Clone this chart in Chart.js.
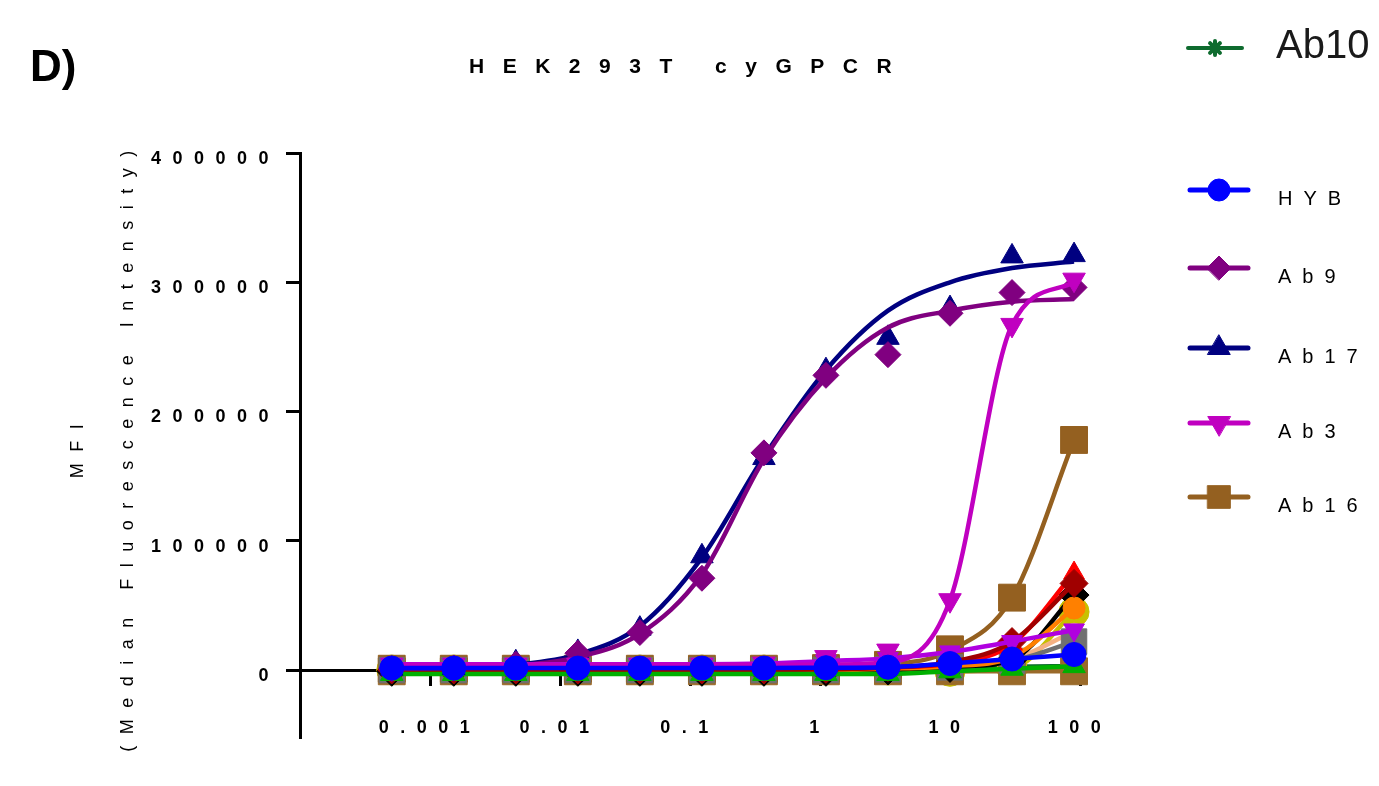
<!DOCTYPE html>
<html>
<head>
<meta charset="utf-8">
<script src="https://cdn.jsdelivr.net/npm/chart.js"></script>
<style>
  html, body { margin: 0; padding: 0; background: #fff; }
  #wrap { position: relative; width: 1379px; height: 786px; font-family: 'Liberation Sans', Arial, sans-serif; color: #000; }
  #panel { position: absolute; left: 30px; top: 44px; font-size: 44px; font-weight: bold; line-height: 1; }
  #title { position: absolute; left: 469px; top: 55px; font-size: 21px; font-weight: bold; line-height: 1; letter-spacing: 18.5px; white-space: pre; }
</style>
</head>
<body>
<div id="wrap">
  <canvas id="chart" width="1379" height="786"></canvas>
  <div id="panel">D)</div>
  <div id="title"></div>
</div>
<script>
// concentrations (3-fold dilution from 90), ascending
const concentrations = [0.000508, 0.001524, 0.004572, 0.01372, 0.04115, 0.1235, 0.3704, 1.111, 3.333, 10, 30, 90];

// measured MFI per concentration
const hyb    = [1500, 1500, 1500, 1500, 1500, 1500, 1500, 1800, 2200, 5000, 8500, 12000];
const ab9    = [1000, 1500, 4500, 13000, 29000, 71000, 168000, 228000, 244000, 276000, 292000, 296000];
const ab17   = [1000, 1500, 6000, 14000, 32000, 88000, 164000, 232000, 257000, 280000, 320000, 321000];
const ab3    = [4000, 4000, 4000, 4000, 4000, 4000, 5000, 10000, 15000, 54000, 267000, 302000];
const ab16   = [1000, 1000, 1000, 1000, 1000, 1000, 1000, 1500, 4000, 16000, 56000, 178000];
const ab10   = [500, 500, 500, 500, 500, 500, 500, 500, 800, 1500, 2500, 3000];

// fitted curves at the same concentrations
const ab9Fit  = [1000, 1500, 3500, 10000, 28000, 74000, 163000, 226000, 265000, 278000, 285000, 287000];
const ab17Fit = [1000, 1500, 4000, 12000, 34000, 87000, 165000, 232000, 278000, 300000, 311000, 316000];
const ab3Fit  = [4000, 4000, 4000, 4000, 4000, 4000, 4000, 4200, 6000, 54000, 267000, 300000];
const ab16Fit = [1000, 1000, 1000, 1000, 1000, 1000, 1000, 1500, 4000, 15000, 56000, 178000];

// unlabelled series
const violet  = [4500, 4500, 4500, 4500, 4500, 4500, 5000, 7000, 9000, 14000, 22000, 31000];
const green   = [-3000, -3000, -3000, -3000, -3000, -3000, -3000, -3000, -3000, -1000, 1000, 3000];
const darkRed = [0, 0, 0, 0, 0, 0, 0, 500, 2000, 6000, 22000, 67000];
const red     = [0, 0, 0, 0, 0, 0, 0, 500, 2000, 5000, 20000, 75000];
const orange  = [0, 0, 0, 0, 0, 0, 0, 0, 1000, 3000, 10000, 48000];
const black   = [-1000, -1000, -1000, -1000, -1000, -1000, -1000, -1000, 0, 2000, 8000, 58000];
const gray    = [0, 0, 0, 0, 0, 0, 0, 0, 500, 2000, 7000, 22000];
const peach   = [0, 0, 0, 0, 0, 0, 0, 0, 1000, 3000, 8000, 30000];
const brown   = [-1000, -1000, -1000, -1000, -1000, -1000, -1000, -1000, -1000, -1000, -1000, -1000];
const yellow  = [0, 0, 0, 0, 0, 0, 0, 0, 0, -1000, 1500, 45000];

const xTicks = [0.001, 0.01, 0.1, 1, 10, 100];
const yTicks = [0, 100000, 200000, 300000, 400000];
const yTitle = ['MFI', '(Median Fluorescence Intensity)'];
const chartTitle = 'HEK293T cyGPCR';
const legendOrder = ['HYB', 'Ab9', 'Ab17', 'Ab3', 'Ab16'];

document.getElementById('title').textContent = chartTitle;
Chart.defaults.font.family = "'Liberation Sans', Arial, sans-serif";
Chart.defaults.color = '#000';

function series(label, values, color, style, radius, extra) {
  return Object.assign({
    label: label,
    data: values.map((v, i) => ({ x: concentrations[i], y: v })),
    borderColor: color,
    backgroundColor: color,
    pointBackgroundColor: color,
    pointBorderColor: color,
    pointStyle: style,
    pointRadius: radius,
    pointBorderWidth: 1,
    borderWidth: 4.5,
    cubicInterpolationMode: 'monotone',
    clip: false
  }, extra || {});
}
const pointsOnly = { showLine: false };
const fitLine = { pointRadius: 0 };

// first dataset is drawn on top
const datasets = [
  series('HYB', hyb, '#0000ff', 'circle', 12),
  series('Ab3', ab3, '#c000c0', 'triangle', 13, Object.assign({ pointRotation: 180 }, pointsOnly)),
  series('Ab3 fit', ab3Fit, '#c000c0', 'circle', 0, fitLine),
  series('violet', violet, '#b000e0', 'triangle', 12, { pointRotation: 180 }),
  series('Ab9', ab9, '#800080', 'rectRot', 13, pointsOnly),
  series('Ab9 fit', ab9Fit, '#800080', 'circle', 0, fitLine),
  series('Ab17', ab17, '#000080', 'triangle', 13, pointsOnly),
  series('Ab17 fit', ab17Fit, '#000080', 'circle', 0, fitLine),
  series('green', green, '#00b000', 'triangle', 13),
  series('dark red', darkRed, '#a00000', 'rectRot', 14),
  series('red', red, '#ff0000', 'triangle', 12),
  series('orange', orange, '#ff8000', 'circle', 11),
  series('black', black, '#000000', 'rectRot', 15),
  series('gray', gray, '#707070', 'rect', 18),
  series('peach', peach, '#f4b183', 'circle', 8),
  series('Ab16', ab16, '#946020', 'rect', 19, pointsOnly),
  series('Ab16 fit', ab16Fit, '#946020', 'circle', 0, fitLine),
  series('brown', brown, '#9a6a2a', 'rect', 19),
  series('yellow', yellow, '#c8c000', 'circle', 15),
  series('Ab10', ab10, '#0e6b2e', 'star', 7, { pointBorderWidth: 4 })
];

const spacing = {
  id: 'spacing',
  beforeLayout(chart) { chart.ctx.letterSpacing = '11.5px'; },
  beforeDraw(chart) { chart.ctx.letterSpacing = '11.5px'; }
};

// legend on the right: line with marker in the middle
const legendRows = [190, 268, 348, 423, 497];
const legendSizes = [11, 12, 13, 13, 16];
const sideLegend = {
  id: 'sideLegend',
  afterDraw(chart) {
    const ctx = chart.ctx;
    const sets = chart.data.datasets;
    const drawItem = (ds, x1, x2, y, r, lw) => {
      ctx.strokeStyle = ds.borderColor;
      ctx.lineWidth = lw;
      ctx.lineCap = 'round';
      ctx.beginPath();
      ctx.moveTo(x1, y);
      ctx.lineTo(x2, y);
      ctx.stroke();
      ctx.fillStyle = ds.pointBackgroundColor;
      ctx.lineWidth = ds.pointBorderWidth;
      Chart.helpers.drawPoint(ctx, {
        pointStyle: ds.pointStyle, rotation: ds.pointRotation || 0,
        radius: r, borderWidth: ds.pointBorderWidth
      }, (x1 + x2) / 2, y);
    };
    ctx.save();
    legendOrder.forEach((name, i) => {
      const ds = sets.find(d => d.label === name);
      const y = legendRows[i];
      drawItem(ds, 1190, 1248, y, legendSizes[i], 5);
      ctx.fillStyle = '#000';
      ctx.font = "20px 'Liberation Sans', Arial, sans-serif";
      ctx.letterSpacing = '11px';
      ctx.textAlign = 'left';
      ctx.textBaseline = 'alphabetic';
      ctx.fillText(ds.label, 1278, y + 15);
    });
    const ab10Set = sets.find(d => d.label === 'Ab10');
    drawItem(ab10Set, 1188, 1242, 48, 7, 4);
    ctx.fillStyle = '#1a1a1a';
    ctx.font = "40px 'Liberation Sans', Arial, sans-serif";
    ctx.letterSpacing = '0px';
    ctx.fillText(ab10Set.label, 1276, 58);
    ctx.restore();
  }
};

new Chart(document.getElementById('chart'), {
  type: 'line',
  data: { datasets: datasets },
  options: {
    responsive: false,
    animation: false,
    devicePixelRatio: 1,
    layout: { padding: { top: 153, right: 299, bottom: 48, left: 0 } },
    plugins: {
      legend: { display: false },
      title: { display: false },
      tooltip: { enabled: false }
    },
    scales: {
      x: {
        type: 'logarithmic',
        min: 0.0001,
        max: 100,
        position: { y: 0 },
        afterBuildTicks: s => { s.ticks = xTicks.map(v => ({ value: v })); },
        grid: { drawOnChartArea: false, tickLength: 14, tickWidth: 3, tickColor: '#000' },
        border: { display: true, color: '#000', width: 3 },
        ticks: {
          autoSkip: false, maxRotation: 0, padding: 33,
          font: { size: 18, weight: 'bold' },
          callback: v => String(v)
        }
      },
      y: {
        type: 'linear',
        min: -52600,
        max: 400000,
        afterBuildTicks: s => { s.ticks = yTicks.map(v => ({ value: v })); },
        afterFit: s => { s.width = 300; },
        grid: { drawOnChartArea: false, tickLength: 14, tickWidth: 3, tickColor: '#000' },
        border: { display: true, color: '#000', width: 3 },
        ticks: {
          padding: 6, labelOffset: 6,
          font: { size: 18, weight: 'bold' },
          callback: v => String(v)
        },
        title: {
          display: true,
          text: yTitle,
          font: { size: 18, lineHeight: 2.78 },
          padding: { top: 53, bottom: 0 }
        }
      }
    }
  },
  plugins: [spacing, sideLegend]
});
</script>
</body>
</html>
